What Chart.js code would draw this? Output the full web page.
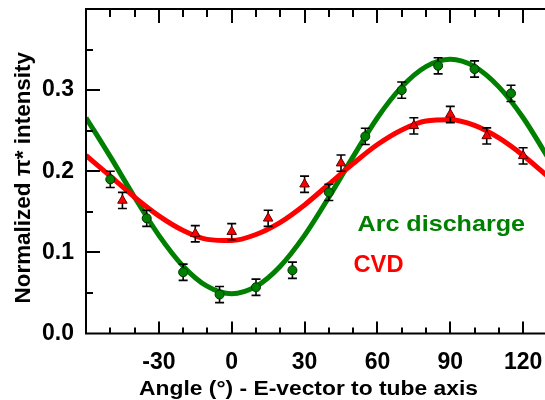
<!DOCTYPE html>
<html><head><meta charset="utf-8">
<script src="https://cdn.jsdelivr.net/npm/chart.js@4/dist/chart.umd.min.js"></script>
<style>html,body{margin:0;padding:0;background:#fff;overflow:hidden}#wrap{width:545px;height:400px;position:relative}</style>
</head><body><div id="wrap"><canvas id="c" width="545" height="400"></canvas></div>
<script>
// ---- data ----
const arcAngles = [-50, -35, -20, -5, 10, 25, 40, 55, 70, 85, 100, 115];
const arcValues = [0.190, 0.142, 0.0755, 0.048, 0.057, 0.078, 0.174, 0.243, 0.300, 0.330, 0.326, 0.296];
const arcErrors = [0.010, 0.010, 0.010, 0.010, 0.010, 0.010, 0.010, 0.010, 0.010, 0.010, 0.010, 0.010];
const cvdAngles = [-45, -15, 0, 15, 30, 45, 75, 90, 105, 120];
const cvdValues = [0.164, 0.123, 0.1255, 0.142, 0.184, 0.210, 0.256, 0.270, 0.2435, 0.219];
const cvdErrors = [0.010, 0.010, 0.010, 0.010, 0.010, 0.010, 0.010, 0.010, 0.010, 0.010];
const fitAngles = [-60, -50, -40, -30, -20, -10, 0, 10, 20, 30, 40, 50, 60, 70, 80, 90, 100, 110, 120, 130];
const arcFit = [0.266, 0.218, 0.168, 0.121, 0.083, 0.058, 0.049, 0.058, 0.083, 0.121, 0.168, 0.218, 0.266, 0.304, 0.329, 0.338, 0.329, 0.304, 0.266, 0.218];
const cvdFit = [0.2195, 0.194, 0.168, 0.145, 0.127, 0.116, 0.1145, 0.122, 0.137, 0.1585, 0.184, 0.2095, 0.233, 0.251, 0.262, 0.2635, 0.2565, 0.241, 0.2195, 0.194];
const xTickLabels = [-30, 0, 30, 60, 90, 120];
const yTickLabels = [0.0, 0.1, 0.2, 0.3];
const seriesNames = ['Arc discharge', 'CVD'];

const GREEN = '#008000', RED = '#ff0000';
const FONT = '"Liberation Sans", Arial, sans-serif';

function fitText(ctx, text, x, y, w, size, color) {
  ctx.save();
  ctx.font = 'bold ' + size + 'px ' + FONT;
  ctx.fillStyle = color;
  ctx.textAlign = 'left';
  ctx.textBaseline = 'alphabetic';
  const mw = ctx.measureText(text).width;
  ctx.translate(x, y);
  ctx.scale(w / mw, 1);
  ctx.fillText(text, 0, 0);
  ctx.restore();
}

const errorBars = {
  id: 'errorBars',
  afterDatasetDraw(chart, args) {
    if (args.index !== 1) return;
    const ctx = chart.ctx, xs = chart.scales.x, ys = chart.scales.y;
    ctx.save();
    ctx.strokeStyle = '#000';
    ctx.lineWidth = 1.6;
    const sets = [[arcAngles, arcValues, arcErrors], [cvdAngles, cvdValues, cvdErrors]];
    sets.forEach(([a, v, e]) => {
      a.forEach((ang, i) => {
        const px = xs.getPixelForValue(ang);
        const y1 = ys.getPixelForValue(v[i] + e[i]);
        const y2 = ys.getPixelForValue(v[i] - e[i]);
        ctx.beginPath();
        ctx.moveTo(px, y1); ctx.lineTo(px, y2);
        ctx.moveTo(px - 4.5, y1); ctx.lineTo(px + 4.5, y1);
        ctx.moveTo(px - 4.5, y2); ctx.lineTo(px + 4.5, y2);
        ctx.stroke();
      });
    });
    ctx.restore();
  }
};

const frameAndText = {
  id: 'frameAndText',
  afterDraw(chart) {
    const ctx = chart.ctx, xs = chart.scales.x, ys = chart.scales.y, ca = chart.chartArea;
    ctx.save();
    ctx.strokeStyle = '#000';
    ctx.lineWidth = 2;
    ctx.beginPath();
    ctx.moveTo(ca.left, ca.top); ctx.lineTo(ca.right + 2, ca.top);
    ctx.moveTo(ca.left, ca.top - 1); ctx.lineTo(ca.left, ca.bottom + 1);
    ctx.moveTo(ca.left - 1, ca.bottom); ctx.lineTo(ca.right + 2, ca.bottom);
    for (let v = -50; v <= xs.max; v += 10) {
      const px = Math.round(xs.getPixelForValue(v));
      const major = v % 30 === 0;
      ctx.moveTo(px, ca.bottom); ctx.lineTo(px, ca.bottom - (major ? 12 : 6));
      ctx.moveTo(px, ca.top); ctx.lineTo(px, ca.top + (major ? 14 : 8));
    }
    for (let k = 1; k <= 7; k++) {
      const v = k * 0.05;
      const py = Math.round(ys.getPixelForValue(v));
      const major = k % 2 === 0;
      ctx.moveTo(ca.left, py); ctx.lineTo(ca.left + (major ? 14 : 7), py);
    }
    ctx.stroke();
    ctx.restore();

    fitText(ctx, 'Angle (°) - E-vector to tube axis', 139, 395, 339, 21, '#000');
    ctx.save();
    ctx.translate(29.5, 303.5);
    ctx.rotate(-Math.PI / 2);
    fitText(ctx, 'Normalized π* intensity', 0, 0, 251.5, 22, '#000');
    ctx.restore();
    fitText(ctx, seriesNames[0], 357.5, 230.5, 167.5, 22, GREEN);
    fitText(ctx, seriesNames[1], 353.5, 271.5, 50, 23, RED);
  }
};

const pts = (xa, ya) => xa.map((x, i) => ({ x, y: ya[i] }));
const noPad = s => { s.paddingTop = 0; s.paddingBottom = 0; s.paddingLeft = 0; s.paddingRight = 0; };

new Chart(document.getElementById('c'), {
  type: 'scatter',
  data: {
    datasets: [
      { label: seriesNames[0] + ' fit', data: pts(fitAngles, arcFit), showLine: true, borderColor: GREEN, borderWidth: 5, pointRadius: 0, cubicInterpolationMode: 'monotone', order: 4 },
      { label: seriesNames[1] + ' fit', data: pts(fitAngles, cvdFit), showLine: true, borderColor: RED, borderWidth: 5, pointRadius: 0, cubicInterpolationMode: 'monotone', order: 3 },
      { label: seriesNames[0], data: pts(arcAngles, arcValues), showLine: false, pointStyle: 'circle', pointRadius: 4.5, backgroundColor: GREEN, borderColor: '#003300', borderWidth: 1, order: 2 },
      { label: seriesNames[1], data: pts(cvdAngles, cvdValues), showLine: false, pointStyle: 'triangle', pointRadius: 5.5, backgroundColor: RED, borderColor: '#600000', borderWidth: 1, order: 1 }
    ]
  },
  options: {
    responsive: false,
    animation: false,
    devicePixelRatio: 1,
    layout: { autoPadding: false, padding: { top: 9, left: 0, right: 0, bottom: 0 } },
    plugins: { legend: { display: false }, tooltip: { enabled: false } },
    scales: {
      x: {
        type: 'linear', min: -60, max: 129,
        grid: { display: false, drawTicks: false },
        border: { display: false },
        afterBuildTicks: s => { s.ticks = xTickLabels.map(v => ({ value: v })); },
        afterFit: s => { s.height = 66.5; noPad(s); },
        ticks: { color: '#000', padding: 15, maxRotation: 0, autoSkip: false, font: { family: FONT, size: 23, weight: 'bold' } }
      },
      y: {
        type: 'linear', min: 0, max: 0.4,
        grid: { display: false, drawTicks: false },
        border: { display: false },
        afterBuildTicks: s => { s.ticks = yTickLabels.map(v => ({ value: v })); },
        afterFit: s => { s.width = 86; noPad(s); },
        ticks: { color: '#000', padding: 12, autoSkip: false, font: { family: FONT, size: 23, weight: 'bold' }, callback: v => Number(v).toFixed(1) }
      }
    }
  },
  plugins: [errorBars, frameAndText]
});
</script>
</body></html>
